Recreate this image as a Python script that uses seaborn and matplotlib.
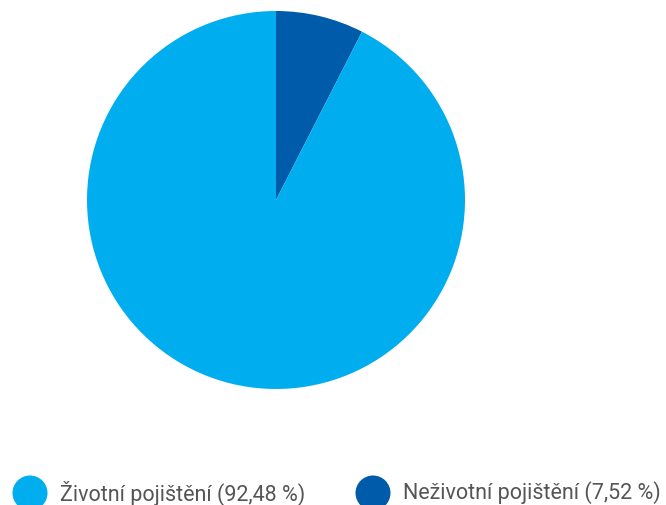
import matplotlib
matplotlib.use("Agg")
import matplotlib.pyplot as plt
from matplotlib.patches import Ellipse
import seaborn as sns

# Share of premiums by insurance type (per cent)
categories = ["Neživotní pojištění", "Životní pojištění"]
shares = [7.52, 92.48]
colors = ["#005BAA", "#00AEEF"]
legend_order = [1, 0]

sns.set_theme(style="white")
plt.rcParams["font.family"] = ["Roboto", "DejaVu Sans"]

W, H = 666, 506
fig = plt.figure(figsize=(W / 100, H / 100), dpi=100)

cx, cy, r = 276, 201, 189
ax = fig.add_axes([(cx - r) / W, (H - cy - r) / H, 2 * r / W, 2 * r / H])
ax.pie(shares, colors=colors, startangle=90, counterclock=False,
       radius=1, wedgeprops=dict(linewidth=0))
ax.set_xlim(-1, 1)
ax.set_ylim(-1, 1)
ax.set_aspect("equal")
ax.axis("off")

def fmt(v):
    return f"{v:.2f}".replace(".", ",") + " %"

# Legend row along the bottom edge
legend_x = [30, 373]
ly = 494
for pos, idx in zip(legend_x, legend_order):
    fig.patches.append(Ellipse((pos / W, 1 - ly / H), 35 / W, 35 / H,
                               transform=fig.transFigure, color=colors[idx],
                               linewidth=0))
    fig.text((pos + 30) / W, 1 - (ly - 1) / H, f"{categories[idx]} ({fmt(shares[idx])})",
             ha="left", va="center", fontsize=15.5, color="#555555")

fig.savefig("out.png", dpi=100)
